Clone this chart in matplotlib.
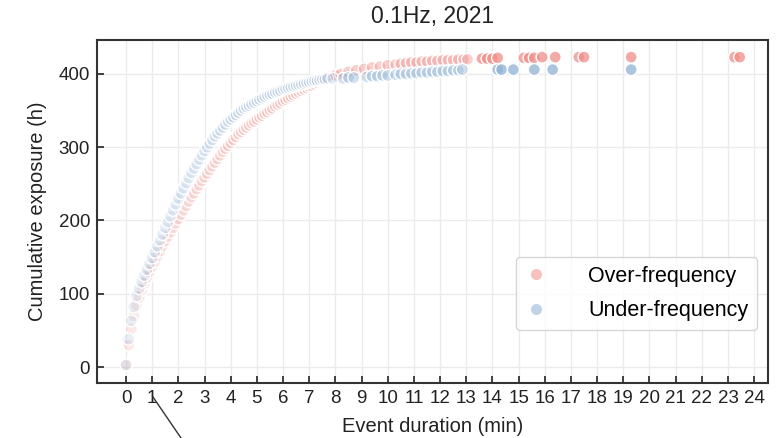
import matplotlib
matplotlib.use("Agg")
import matplotlib.pyplot as plt
from matplotlib.lines import Line2D
from matplotlib.colors import to_rgba

plt.rcParams['font.family'] = ['Liberation Sans', 'DejaVu Sans']

title = "0.1Hz, 2021"
xlabel = "Event duration (min)"
ylabel = "Cumulative exposure (h)"
series_names = ["Over-frequency", "Under-frequency"]
xticks = list(range(0, 25))
yticks = [0, 100, 200, 300, 400]

# Over-frequency (pink)
over_x = [0.0, 0.1, 0.2, 0.3, 0.4, 0.5, 0.6, 0.7, 0.8, 0.9,
          1.0, 1.1, 1.2, 1.3, 1.4, 1.5, 1.6, 1.7, 1.8, 1.9,
          2.0, 2.1, 2.2, 2.3, 2.4, 2.5, 2.6, 2.7, 2.8, 2.9,
          3.0, 3.1, 3.2, 3.3, 3.4, 3.5, 3.6, 3.7, 3.8, 3.9,
          4.0, 4.1, 4.2, 4.3, 4.4, 4.5, 4.6, 4.7, 4.8, 4.9,
          5.0, 5.1, 5.2, 5.3, 5.4, 5.5, 5.6, 5.7, 5.8, 5.9,
          6.0, 6.1, 6.2, 6.3, 6.4, 6.5, 6.6, 6.7, 6.8, 6.9,
          7.0, 7.1, 7.2, 7.3, 7.4, 7.5, 7.6, 7.7, 7.8, 7.9, 8.0,
          8.2, 8.5, 8.8, 9.1, 9.4, 9.7, 10.0, 10.3, 10.5, 10.7, 10.9,
          11.1, 11.3, 11.5, 11.7, 11.9, 12.1, 12.3, 12.5, 12.7, 12.9, 13.05,
          13.6, 13.8, 14.0, 14.2, 15.2, 15.4, 15.6, 15.9, 16.4,
          17.3, 17.5, 19.3, 23.25, 23.45]
over_y = [2, 30, 52, 70, 84, 95, 105, 114, 122, 130,
          137, 144, 151, 158, 165, 172, 178, 184, 190, 196,
          202, 208, 214, 220, 226, 232, 237, 243, 248, 254,
          259, 264, 269, 274, 279, 284, 289, 294, 298, 302,
          306, 310, 314, 318, 321, 324, 327, 330, 333, 335,
          338, 341, 343, 346, 348, 351, 353, 356, 358, 360,
          363, 365, 367, 369, 371, 373, 375, 377, 379, 381,
          383, 384, 386, 388, 390, 391, 393, 394, 396, 397, 398,
          400, 403, 405, 407, 409, 410, 412, 413, 414, 415, 416,
          416, 417, 417, 418, 418, 419, 419, 419, 420, 420, 420,
          421, 421, 421, 422, 422, 422, 422, 423, 423,
          423, 423, 423, 423, 423]

# Under-frequency (blue)
under_x = [0.0, 0.1, 0.2, 0.3, 0.4, 0.5, 0.6, 0.7, 0.8, 0.9,
           1.0, 1.1, 1.2, 1.3, 1.4, 1.5, 1.6, 1.7, 1.8, 1.9,
           2.0, 2.1, 2.2, 2.3, 2.4, 2.5, 2.6, 2.7, 2.8, 2.9,
           3.0, 3.1, 3.2, 3.3, 3.4, 3.5, 3.6, 3.7, 3.8, 3.9,
           4.0, 4.1, 4.2, 4.3, 4.4, 4.5, 4.6, 4.7, 4.8, 4.9,
           5.0, 5.1, 5.2, 5.3, 5.4, 5.5, 5.6, 5.7, 5.8, 5.9,
           6.0, 6.1, 6.2, 6.3, 6.4, 6.5, 6.6, 6.7, 6.8, 6.9,
           7.0, 7.1, 7.2, 7.3, 7.4, 7.5, 7.6, 7.7,
           7.9, 8.3, 8.5, 8.7, 9.2, 9.4, 9.6, 9.8, 10.0, 10.3, 10.5,
           10.7, 10.9, 11.1, 11.3, 11.5, 11.7, 11.9, 12.1, 12.3, 12.5,
           12.7, 12.85, 14.2, 14.35, 14.8, 15.6, 16.3, 19.3]
under_y = [3, 38, 63, 82, 97, 107, 116, 125, 133, 141,
           149, 157, 165, 173, 181, 190, 198, 206, 214, 222,
           230, 237, 244, 251, 258, 265, 271, 277, 283, 289,
           295, 300, 305, 310, 315, 319, 323, 327, 331, 335,
           338, 341, 344, 347, 350, 353, 355, 357, 359, 361,
           363, 365, 367, 369, 371, 372, 373, 375, 376, 377,
           379, 380, 381, 382, 383, 384, 385, 386, 387, 388,
           389, 390, 391, 391, 392, 393, 393, 394,
           394, 394, 395, 395, 396, 397, 397, 398, 398, 399, 400,
           400, 401, 401, 402, 402, 403, 403, 404, 404, 405,
           405, 406, 406, 406, 406, 406, 406, 406]

over_color = "#EF8E89"
under_color = "#8FB2D4"


def point_colors(xs, base):
    # dense short events render washed out, sparse long events more solid
    out = []
    for x in xs:
        if x < 8:
            a = 0.2
        elif x < 13.2:
            a = 0.4
        else:
            a = 0.75
        out.append(to_rgba(base, a))
    return out


fig = plt.figure(figsize=(7.76, 4.38), dpi=100)
ax = fig.add_axes([0.125, 0.1256, 0.8647, 0.7831])

ax.scatter(over_x, over_y, s=75, c=point_colors(over_x, over_color),
           edgecolors="white", linewidths=1.0, zorder=3)
ax.scatter(under_x, under_y, s=75, c=point_colors(under_x, under_color),
           edgecolors="white", linewidths=1.0, zorder=3)

ax.set_xlim(-1.11, 24.53)
ax.set_ylim(-21.8, 446.4)
ax.set_xticks(xticks)
ax.set_xticklabels([str(t) for t in xticks])
ax.set_yticks(yticks)
ax.grid(True, color="#ebebeb", linewidth=1.0, zorder=0)
ax.set_axisbelow(True)

ax.tick_params(direction="in", length=5, width=1.2, labelsize=13.5,
               colors="#222222", pad=5)
for sp in ax.spines.values():
    sp.set_color("#333333")
    sp.set_linewidth(1.5)

ax.set_title(title, fontsize=16.5, color="#222222", pad=12)
ax.set_xlabel(xlabel, fontsize=14.5, color="#222222", labelpad=7)
ax.set_ylabel(ylabel, fontsize=14.5, color="#222222", labelpad=8)

handles = [Line2D([], [], linestyle="none", marker="o", markersize=9,
                  markerfacecolor=to_rgba(over_color, 0.55), markeredgecolor="white"),
           Line2D([], [], linestyle="none", marker="o", markersize=9,
                  markerfacecolor=to_rgba(under_color, 0.55), markeredgecolor="white")]
leg = ax.legend(handles, series_names, loc="lower right",
                bbox_to_anchor=(0.9836, 0.1545), borderaxespad=0,
                fontsize=15.5, frameon=True, fancybox=True,
                edgecolor="#cccccc", handlelength=1.0, handletextpad=1.95,
                borderpad=0.4, labelspacing=0.64)
leg.get_frame().set_linewidth(1.0)

# stray leader line in the reference
fig.add_artist(Line2D([153 / 776, 181 / 776], [1 - 397 / 438, 1 - 438 / 438],
                      transform=fig.transFigure, color="#333333", linewidth=1.0))

fig.savefig("out.png", dpi=100)
